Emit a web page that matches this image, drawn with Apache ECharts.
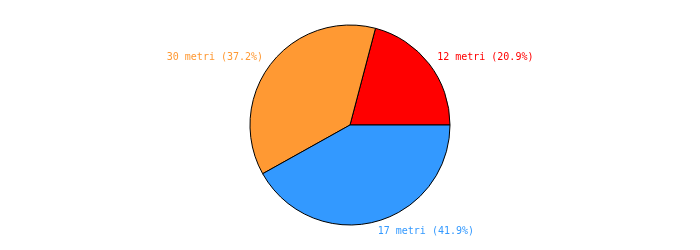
<!DOCTYPE html>
<html>
<head>
<meta charset="utf-8">
<script src="https://cdn.jsdelivr.net/npm/echarts@6/dist/echarts.min.js"></script>
<style>html,body{margin:0;padding:0;background:#fff;}#c{width:700px;height:250px;}</style>
</head>
<body>
<div id="c"></div>
<script>
var names = ['12 metri', '30 metri', '17 metri'];
var values = [20.9, 37.2, 41.9];
var colors = ['#FF0000', '#FF9933', '#3399FF'];

var chart = echarts.init(document.getElementById('c'), null, {renderer: 'canvas'});
chart.setOption({
  animation: false,
  backgroundColor: '#ffffff',
  series: [{
    type: 'pie',
    center: [350, 125],
    radius: 100,
    startAngle: 0,
    clockwise: false,
    avoidLabelOverlap: false,
    data: names.map(function (n, i) {
      return {name: n, value: values[i], itemStyle: {color: colors[i]}, label: {color: colors[i]}};
    }),
    itemStyle: {borderColor: '#000', borderWidth: 1},
    label: {
      show: true,
      position: 'outside',
      formatter: function (p) { return p.name + ' (' + p.percent.toFixed(1) + '%)'; },
      fontFamily: 'DejaVu Sans Mono',
      fontSize: 10,
      distanceToLabelLine: 0
    },
    labelLine: {show: false, length: 10, length2: 0},
    emphasis: {disabled: true}
  }]
});
</script>
</body>
</html>
